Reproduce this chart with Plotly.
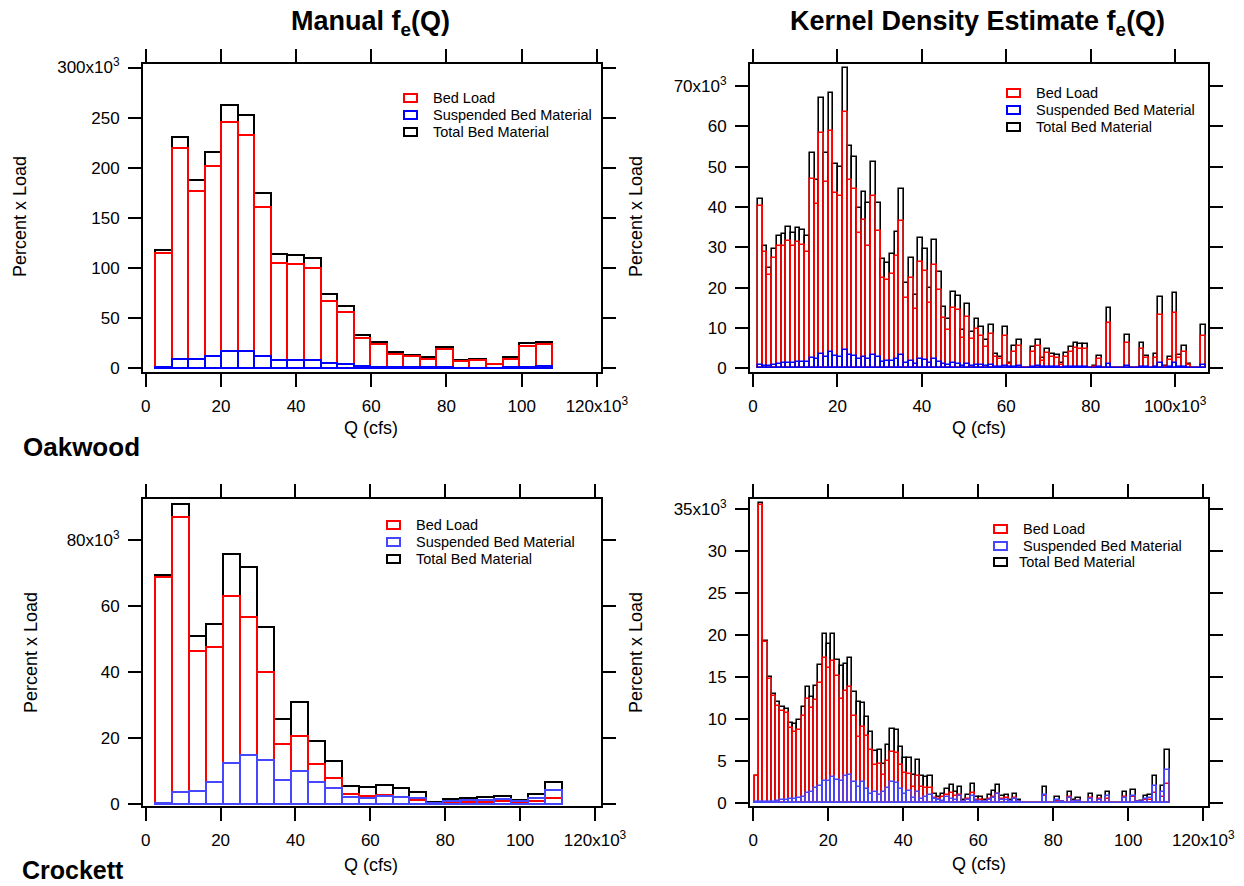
import numpy as np
import plotly.graph_objects as go

W, H = 1244, 886

# ------------------------------------------------------------------
# DATA  (Percent x Load, in thousands -> axis labels carry "x10^3")
# ------------------------------------------------------------------
# Oakwood, manual f_e(Q): 24 discharge classes (Q in thousand cfs)
oak_man_q_start = 2.5
oak_man_q_width = 4.4
oak_man_total = [118.6, 230.9, 187.7, 215.6, 263.1, 252.2, 175.1, 114.6, 113.0, 110.0,
                 73.8, 62.1, 32.9, 26.6, 16.3, 13.6, 11.3, 21.3, 8.6, 9.3, 4.7, 11.3, 25.6, 26.6]
oak_man_bed = [115.3, 219.9, 177.1, 202.0, 245.2, 233.2, 160.8, 105.6, 103.7, 100.3,
               67.1, 56.1, 29.9, 24.3, 14.3, 12.3, 9.6, 19.9, 7.6, 8.0, 4.0, 9.6, 22.6, 24.3]
oak_man_susp = [1.7, 9.6, 9.3, 12.3, 17.3, 17.6, 12.3, 8.3, 8.3, 8.3,
                5.6, 4.0, 2.3, 1.7, 1.3, 1.0, 1.0, 1.0, 0.8, 0.8, 0.7, 1.0, 1.7, 2.0]

# Crockett, manual f_e(Q)
cro_man_q_start = 2.5
cro_man_q_width = 4.53
cro_man_total = [69.3, 90.9, 50.8, 54.6, 75.8, 71.9, 53.7, 25.8, 31.0, 19.1, 13.2, 5.5,
                 5.1, 6.0, 4.9, 3.8, 0.6, 1.6, 1.9, 2.2, 2.5, 1.2, 3.0, 6.7]
cro_man_bed = [68.9, 87.1, 46.4, 47.7, 62.9, 56.8, 40.1, 18.2, 20.7, 12.1, 7.9, 3.1,
               2.6, 2.9, 2.3, 1.3, 0.3, 0.5, 0.8, 0.8, 0.9, 0.6, 0.9, 1.9]
cro_man_susp = [0.5, 3.6, 3.9, 6.7, 12.6, 14.9, 13.4, 7.4, 10.1, 6.8, 5.0, 2.2,
                2.0, 2.5, 2.3, 2.0, 0.5, 0.9, 1.2, 1.4, 1.6, 0.9, 2.0, 4.4]

# Oakwood, kernel density estimate f_e(Q): 95 discharge classes
oak_kde_q_start = 1.2
oak_kde_q_width = 1.116
oak_kde_total = [41.9, 30.4, 24.8, 29.6, 32.9, 33.2, 35.0, 33.5, 34.9, 34.3,
                 32.9, 53.5, 46.7, 67.1, 53.5, 68.3, 50.6, 50.0, 74.4, 55.0,
                 52.5, 39.7, 43.8, 40.9, 51.2, 41.1, 27.0, 26.0, 28.3, 33.9,
                 44.4, 21.1, 27.3, 18.2, 32.2, 29.6, 19.8, 31.7, 24.0, 15.3,
                 12.1, 18.8, 17.9, 9.5, 16.0, 9.1, 12.1, 10.3, 7.0, 10.7,
                 3.6, 2.9, 10.3, 1.4, 5.5, 6.9, 0, 0, 5.4, 6.9,
                 2.5, 4.7, 3.6, 3.3, 1.2, 3.9, 5.4, 6.2, 6.0, 6.0,
                 0, 0.6, 3.1, 0, 15.0, 0, 0, 0, 8.3, 0,
                 0, 6.2, 3.1, 0, 3.5, 17.8, 0.5, 2.7, 18.6, 3.3,
                 5.6, 1.1, 0, 0, 10.7]
oak_kde_bed = [40.3, 28.8, 23.1, 27.3, 30.2, 30.2, 31.6, 30.2, 31.2, 30.6,
               28.9, 46.9, 40.7, 58.3, 46.3, 58.8, 43.4, 42.8, 63.5, 46.7,
               44.4, 33.5, 36.8, 30.2, 42.8, 34.0, 22.5, 21.9, 23.3, 27.9,
               36.4, 17.4, 22.3, 14.6, 26.3, 24.2, 16.1, 25.6, 19.4, 12.4,
               9.5, 14.9, 14.5, 7.4, 12.8, 7.2, 9.7, 7.9, 5.4, 8.5,
               2.7, 2.2, 8.1, 1.1, 4.1, 5.5, 0, 0, 4.1, 5.5,
               1.9, 3.7, 2.7, 2.5, 0.9, 2.9, 4.1, 5.0, 4.8, 4.8,
               0, 0.4, 2.4, 0, 11.3, 0, 0, 0, 6.2, 0,
               0, 4.8, 2.5, 0, 2.6, 13.1, 0.4, 2.0, 13.6, 2.5,
               4.0, 0.8, 0, 0, 7.9]
oak_kde_susp = [0.8, 0.6, 0.6, 0.8, 1.0, 1.2, 1.3, 1.4, 1.5, 1.5,
                1.6, 2.5, 2.2, 3.5, 2.8, 4.0, 3.0, 2.9, 4.5, 3.3,
                3.1, 2.4, 2.7, 2.3, 3.4, 2.8, 1.6, 1.7, 1.9, 2.4,
                3.2, 1.3, 1.9, 1.0, 2.2, 2.0, 1.2, 2.2, 1.6, 1.0,
                0.8, 1.2, 1.1, 0.6, 1.0, 0.6, 0.8, 0.7, 0.5, 0.7,
                0.3, 0.3, 0.6, 0.2, 0.4, 0.5, 0.1, 0.1, 0.4, 0.5,
                0.2, 0.3, 0.3, 0.3, 0.1, 0.3, 0.4, 0.4, 0.4, 0.4,
                0.1, 0.1, 0.3, 0.1, 1.0, 0.1, 0.1, 0.1, 0.6, 0.1,
                0.1, 0.4, 0.3, 0.1, 0.3, 1.2, 0.1, 0.2, 1.4, 0.3,
                0.4, 0.1, 0.1, 0.1, 0.7]

# Crockett, kernel density estimate f_e(Q): 98 discharge classes
cro_kde_q_start = 0.45
cro_kde_q_width = 1.128
cro_kde_total = [3.3, 35.7, 19.3, 15.0, 13.0, 12.0, 11.4, 11.2, 9.5, 9.4,
                 9.9, 11.5, 13.8, 12.6, 14.0, 16.5, 20.2, 19.0, 20.2, 17.0,
                 16.3, 16.6, 17.3, 13.2, 12.0, 11.9, 10.3, 8.5, 6.2, 6.3,
                 4.7, 6.9, 8.8, 8.7, 6.7, 5.4, 5.4, 3.4, 5.2, 3.3,
                 3.1, 3.3, 1.1, 0.8, 1.1, 1.7, 2.2, 1.4, 2.0, 0.4,
                 1.0, 2.3, 0.8, 0.8, 0.4, 1.0, 1.5, 2.2, 0.9, 1.0,
                 0.4, 1.1, 0.4, 0, 0, 0, 0, 0, 1.9, 0,
                 0, 0.7, 0.2, 0, 1.3, 0.4, 0.6, 0, 0, 1.1,
                 0, 0.9, 0, 1.4, 0, 0, 0, 1.3, 0, 1.6,
                 0.2, 0.3, 0.9, 1.0, 3.3, 0, 2.1, 6.3]
cro_kde_bed = [3.3, 35.5, 19.2, 14.8, 12.8, 11.6, 11.0, 10.8, 9.0, 8.5,
               8.7, 10.4, 12.4, 11.3, 12.3, 14.3, 17.3, 16.1, 16.9, 15.1,
               12.4, 13.4, 13.8, 10.4, 7.9, 9.1, 8.0, 6.4, 4.6, 4.7,
               3.4, 5.0, 6.1, 6.0, 4.6, 3.6, 3.5, 2.0, 3.2, 2.0,
               1.8, 1.8, 0.6, 0.5, 0.7, 1.0, 1.2, 0.9, 1.0, 0.2,
               0.5, 1.2, 0.4, 0.4, 0.2, 0.5, 0.8, 1.1, 0.5, 0.6,
               0.2, 0.6, 0.2, 0, 0, 0, 0, 0, 0.9, 0,
               0, 0.3, 0.1, 0, 0.7, 0.2, 0.3, 0, 0, 0.6,
               0, 0.5, 0, 0.5, 0, 0, 0, 0.7, 0, 0.7,
               0.1, 0.1, 0.4, 0.4, 1.2, 0, 0.8, 2.3]
cro_kde_susp = [0.1, 0.1, 0.1, 0.1, 0.2, 0.3, 0.4, 0.4, 0.5, 0.5,
                0.6, 0.8, 1.2, 1.3, 1.8, 2.1, 2.7, 2.7, 3.1, 2.8,
                2.6, 3.3, 3.4, 2.5, 2.0, 2.5, 1.7, 1.1, 1.4, 1.0,
                1.3, 1.8, 2.5, 2.4, 1.7, 1.1, 1.5, 0.6, 1.4, 0.5,
                0.8, 1.0, 0.5, 0.4, 0.3, 0.7, 0.5, 0.4, 0.9, 0.2,
                0.4, 0.9, 0.3, 0.2, 0.1, 0.4, 0.6, 1.1, 0.4, 0.4,
                0.2, 0.5, 0.2, 0.05, 0.05, 0.05, 0.05, 0.05, 1.0, 0.05,
                0.05, 0.4, 0.1, 0.05, 0.6, 0.2, 0.3, 0.05, 0.05, 0.5,
                0.05, 0.4, 0.05, 0.9, 0.05, 0.05, 0.05, 0.6, 0.05, 0.9,
                0.1, 0.2, 0.5, 0.6, 2.1, 0.05, 1.3, 4.0]

series_names = ["Bed Load", "Suspended Bed Material", "Total Bed Material"]

# ------------------------------------------------------------------
FONT = "Liberation Sans, Arial, Helvetica, sans-serif"
RED = "#FF0000"
BLUE_TOP = "#0000FF"
BLUE_BOT = "#4646FF"


def px(x):
    return x / W


def py(y):
    return 1 - y / H


def centers(start, width, n):
    return start + width * (np.arange(n) + 0.5)


fig = go.Figure()

panels = [
    # axis suffix, q start, width, total, bed, susp, blue, line width
    ("", oak_man_q_start, oak_man_q_width, oak_man_total, oak_man_bed, oak_man_susp, BLUE_TOP, 2.0),
    ("2", oak_kde_q_start, oak_kde_q_width, oak_kde_total, oak_kde_bed, oak_kde_susp, BLUE_TOP, 1.6),
    ("3", cro_man_q_start, cro_man_q_width, cro_man_total, cro_man_bed, cro_man_susp, BLUE_BOT, 2.0),
    ("4", cro_kde_q_start, cro_kde_q_width, cro_kde_total, cro_kde_bed, cro_kde_susp, BLUE_BOT, 1.6),
]

for suf, q0, dq, tot, bed, susp, blue, lw in panels:
    xc = centers(q0, dq, len(tot))
    for vals, col, name in ((tot, "black", series_names[2]),
                            (bed, RED, series_names[0]),
                            (susp, blue, series_names[1])):
        fig.add_trace(go.Bar(
            x=xc, y=vals, width=dq, name=name,
            xaxis="x" + suf, yaxis="y" + suf,
            marker=dict(color="rgba(0,0,0,0)", line=dict(color=col, width=lw)),
            showlegend=False, hoverinfo="x+y+name"))

axis_common = dict(
    showline=True, linecolor="black", linewidth=2, mirror="ticks",
    ticks="outside", ticklen=13, tickwidth=2, tickcolor="black",
    showgrid=False, zeroline=False, automargin=False,
    tickfont=dict(family=FONT, size=17, color="black"),
)


def ticks_for(maxv, step, suffix_at):
    vals = list(range(0, maxv + 1, step))
    txt = [str(v) if v != suffix_at else f"{v}x10<sup>3</sup>" for v in vals]
    return vals, txt


# frames in page pixels: (left, right, top, bottom)
frames = {
    "": (143, 601, 64, 372),
    "2": (750, 1208, 64, 372),
    "3": (143, 601, 499, 806),
    "4": (750, 1208, 499, 806),
}
xranges = {"": [-0.72, 121.1], "2": [-0.71, 107.8], "3": [-0.72, 121.6], "4": [-0.88, 121.25]}
yranges = {"": [-3.5, 303.5], "2": [-0.92, 75.45], "3": [-0.5, 92.4], "4": [-0.32, 36.2]}
xtick_spec = {"": (120, 20, 120), "2": (100, 20, 100), "3": (120, 20, 120), "4": (120, 20, 120)}
ytick_spec = {"": (300, 50, 300), "2": (70, 10, 70), "3": (80, 20, 80), "4": (35, 5, 35)}

layout_axes = {}
for suf in ["", "2", "3", "4"]:
    l, r, t, b = frames[suf]
    xv, xt = ticks_for(*xtick_spec[suf])
    yv, yt = ticks_for(*ytick_spec[suf])
    layout_axes["xaxis" + suf] = dict(
        axis_common, domain=[px(l), px(r)], range=xranges[suf],
        anchor="y" + suf, tickvals=xv, ticktext=xt, ticklabelstandoff=5)
    layout_axes["yaxis" + suf] = dict(
        axis_common, domain=[py(b), py(t)], range=yranges[suf],
        anchor="x" + suf, tickvals=yv, ticktext=yt, ticklabelstandoff=5)

fig.update_layout(**layout_axes)

annotations = []
shapes = []


def text(x, y, s, size, bold=False, xanchor="center", angle=0):
    annotations.append(dict(
        x=px(x), y=py(y), xref="paper", yref="paper", text=s, showarrow=False,
        xanchor=xanchor, yanchor="middle", textangle=angle,
        font=dict(family=FONT, size=size, color="black",
                  weight="bold" if bold else "normal")))


# panel titles and station names
text(370, 23, "Manual f<sub>e</sub>(Q)", 27, bold=True)
text(977, 23, "Kernel Density Estimate f<sub>e</sub>(Q)", 27, bold=True)
text(21, 447, "Oakwood", 26, bold=True, xanchor="left")
text(20, 870, "Crockett", 25, bold=True, xanchor="left")

# axis titles
for (yx, yy, qx, qy) in [(20, 217, 371, 428), (636, 217, 979, 428),
                         (31, 653, 371, 865), (636, 653, 979, 864)]:
    text(yx, yy, "Percent x Load", 18, angle=-90)
    text(qx, qy, "Q (cfs)", 18)

# legends (hollow boxes + labels)
legends = [
    (404, 431, [98, 115, 132], BLUE_TOP, [0, 0, 0]),
    (1007, 1034, [93, 110, 127], BLUE_TOP, [0, 0, 0]),
    (387, 414, [525, 542, 559], BLUE_BOT, [0, 0, 0]),
    (994, 1021, [529, 546, 562], BLUE_BOT, [0, 0, -4]),
]
for bx, tx, ys, blue, dx in legends:
    for name, col, yc, d in zip(series_names, [RED, blue, "black"], ys, dx):
        shapes.append(dict(type="rect", xref="paper", yref="paper",
                           x0=px(bx), x1=px(bx + 13), y0=py(yc + 4), y1=py(yc - 4),
                           line=dict(color=col, width=2), fillcolor="white"))
        text(tx + d, yc, name, 14.5, xanchor="left")

fig.update_layout(
    width=W, height=H, margin=dict(l=0, r=0, t=0, b=0, pad=0),
    paper_bgcolor="white", plot_bgcolor="white",
    barmode="overlay", bargap=0, showlegend=False,
    annotations=annotations, shapes=shapes,
    font=dict(family=FONT, color="black"),
)

fig.write_html("out.html")
